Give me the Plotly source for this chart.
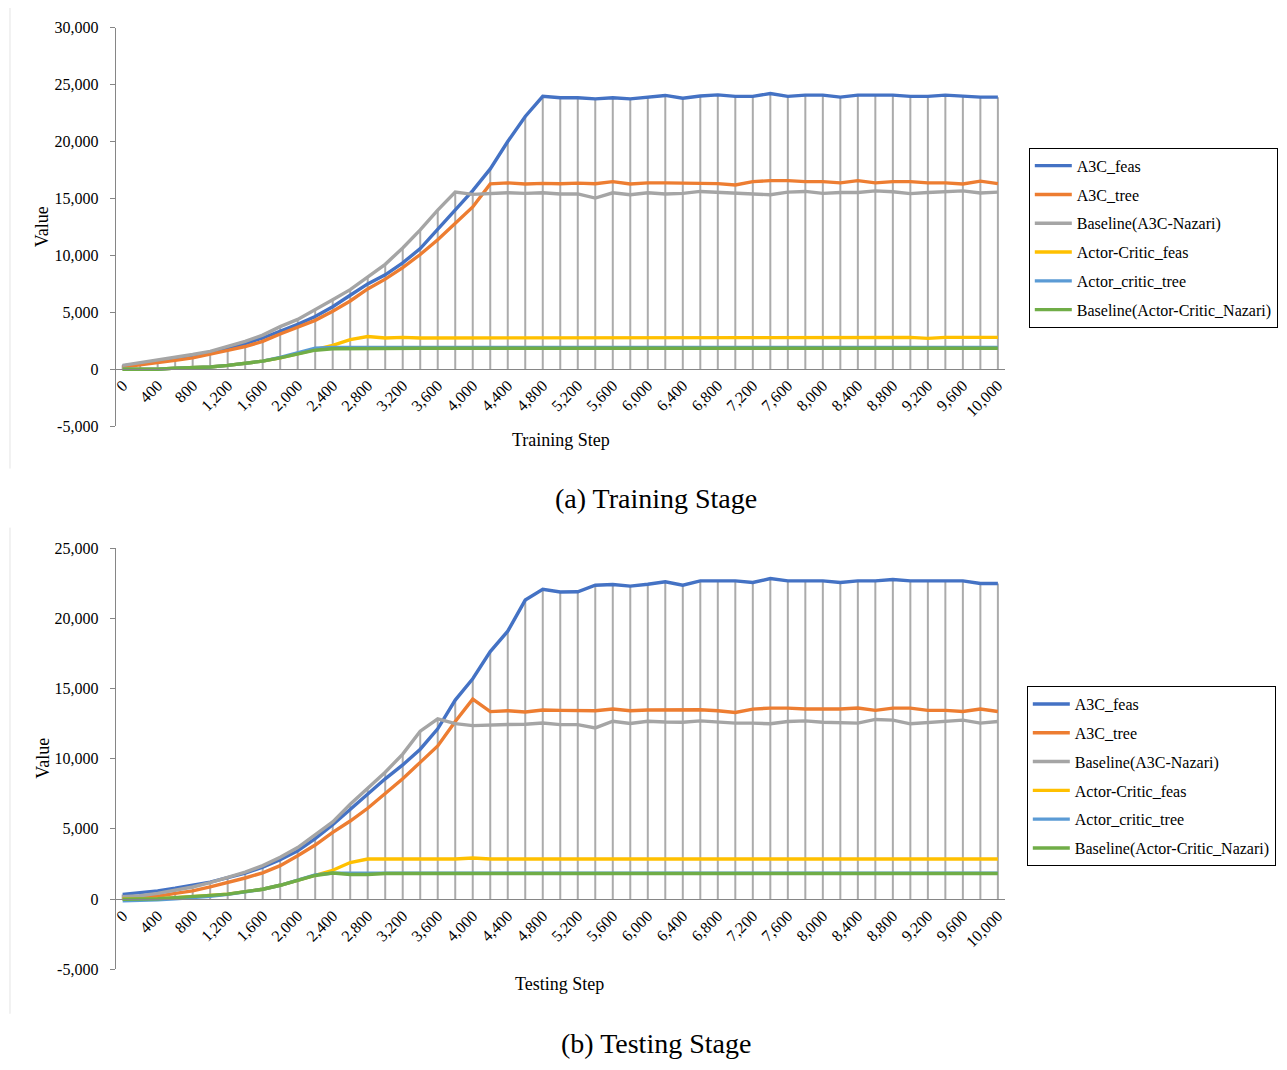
import plotly.graph_objects as go

# ---- data -------------------------------------------------------------
steps = list(range(0, 10001, 200))
tick_steps = list(range(0, 10001, 400))
y_ticks_train = [-5000, 0, 5000, 10000, 15000, 20000, 25000, 30000]
y_ticks_test = [-5000, 0, 5000, 10000, 15000, 20000, 25000]
series_names = ["A3C_feas", "A3C_tree", "Baseline(A3C-Nazari)",
                "Actor-Critic_feas", "Actor_critic_tree", "Baseline(Actor-Critic_Nazari)"]

train_a3c_feas = [300, 480, 700, 920, 1150, 1450, 1850, 2250, 2750, 3350, 3950,
                  4640, 5500, 6500, 7500, 8300, 9350, 10600, 12300, 14100, 15700,
                  17600, 20000, 22200, 23970, 23850, 23850, 23750, 23850, 23750, 23900,
                  24050, 23800, 24000, 24100, 23970, 23970, 24220, 23970, 24080, 24080,
                  23900, 24080, 24080, 24080, 23970, 23970, 24080, 23970, 23900, 23900]
train_a3c_tree = [200, 370, 580, 780, 1000, 1300, 1670, 2000, 2450, 3100, 3700,
                  4300, 5100, 6000, 7060, 7920, 8930, 10080, 11380, 12830, 14260,
                  16280, 16370, 16270, 16330, 16300, 16350, 16300, 16480, 16280, 16370,
                  16370, 16370, 16370, 16310, 16190, 16480, 16570, 16570, 16480, 16480,
                  16370, 16570, 16370, 16480, 16480, 16370, 16370, 16280, 16520, 16310]
train_baseline_a3c = [350, 580, 800, 1040, 1300, 1580, 2000, 2450, 3000, 3750, 4380,
                      5200, 6100, 7000, 8130, 9220, 10660, 12250, 13980, 15560, 15360,
                      15450, 15500, 15450, 15500, 15400, 15400, 15040, 15500, 15330, 15500,
                      15400, 15450, 15620, 15560, 15480, 15430, 15330, 15560, 15620, 15450,
                      15530, 15530, 15670, 15590, 15430, 15530, 15620, 15670, 15480, 15560]
train_ac_feas = [0, -20, 0, 100, 150, 200, 350, 520, 720, 1000, 1380,
                 1750, 2100, 2600, 2880, 2750, 2800, 2750, 2750, 2750, 2800,
                 2800, 2800, 2800, 2800, 2800, 2800, 2800, 2800, 2800, 2800,
                 2800, 2800, 2800, 2800, 2800, 2800, 2800, 2800, 2800, 2800,
                 2800, 2800, 2800, 2800, 2800, 2720, 2800, 2800, 2800, 2800]
train_ac_tree = [0, -20, 0, 100, 150, 200, 350, 520, 720, 1050, 1450,
                 1850, 1920, 1930, 1920, 1920, 1920, 1920, 1920, 1920, 1920,
                 1920, 1920, 1920, 1920, 1920, 1920, 1920, 1920, 1920, 1920,
                 1920, 1920, 1920, 1920, 1920, 1920, 1920, 1920, 1920, 1920,
                 1920, 1920, 1920, 1920, 1920, 1920, 1920, 1920, 1920, 1920]
train_baseline_ac = [0, -20, 0, 100, 150, 200, 350, 520, 720, 1000, 1350,
                     1680, 1800, 1820, 1850, 1850, 1850, 1850, 1850, 1830, 1820,
                     1850, 1850, 1850, 1850, 1850, 1850, 1850, 1850, 1850, 1850,
                     1850, 1850, 1850, 1850, 1850, 1850, 1850, 1850, 1850, 1850,
                     1820, 1820, 1850, 1850, 1810, 1850, 1850, 1850, 1850, 1850]

test_a3c_feas = [330, 440, 580, 770, 980, 1210, 1520, 1850, 2270, 2800, 3430,
                 4300, 5300, 6400, 7520, 8570, 9560, 10680, 12130, 14180, 15700,
                 17640, 19090, 21310, 22080, 21880, 21900, 22370, 22420, 22300, 22440,
                 22610, 22370, 22680, 22680, 22680, 22560, 22840, 22680, 22680, 22680,
                 22560, 22680, 22680, 22770, 22680, 22680, 22680, 22680, 22490, 22490]
test_a3c_tree = [50, 100, 200, 400, 580, 860, 1170, 1500, 1870, 2380, 3080,
                 3850, 4750, 5560, 6470, 7520, 8570, 9740, 10910, 12660, 14250,
                 13360, 13420, 13330, 13470, 13450, 13450, 13420, 13540, 13420, 13470,
                 13470, 13490, 13490, 13420, 13300, 13540, 13610, 13610, 13540, 13540,
                 13540, 13610, 13450, 13610, 13610, 13450, 13450, 13370, 13540, 13370]
test_baseline_a3c = [160, 230, 400, 630, 860, 1170, 1520, 1920, 2380, 2970, 3670,
                     4600, 5500, 6750, 7920, 9040, 10330, 11960, 12850, 12500, 12360,
                     12420, 12440, 12460, 12550, 12430, 12430, 12200, 12670, 12510, 12670,
                     12620, 12600, 12700, 12610, 12540, 12540, 12490, 12650, 12700, 12600,
                     12580, 12540, 12800, 12750, 12490, 12580, 12700, 12750, 12540, 12650]
test_ac_feas = [0, 0, 20, 100, 160, 260, 350, 510, 700, 980, 1330,
                1700, 2050, 2600, 2850, 2850, 2850, 2850, 2850, 2850, 2920,
                2850, 2850, 2850, 2850, 2850, 2850, 2900, 2850, 2850, 2850,
                2850, 2850, 2850, 2850, 2900, 2850, 2900, 2850, 2850, 2900,
                2850, 2850, 2900, 2850, 2850, 2850, 2850, 2900, 2850, 2850]
test_ac_tree = [-120, -100, -50, 20, 100, 200, 330, 500, 700, 980, 1350,
                1720, 1850, 1820, 1850, 1850, 1850, 1850, 1850, 1850, 1850,
                1850, 1850, 1850, 1850, 1850, 1850, 1850, 1850, 1850, 1850,
                1850, 1850, 1850, 1850, 1850, 1850, 1850, 1850, 1850, 1850,
                1850, 1850, 1850, 1850, 1850, 1850, 1850, 1850, 1850, 1850]
test_baseline_ac = [-20, -20, 20, 100, 160, 260, 350, 510, 700, 980, 1330,
                    1680, 1850, 1750, 1750, 1820, 1820, 1820, 1820, 1820, 1820,
                    1820, 1820, 1820, 1820, 1820, 1820, 1820, 1820, 1820, 1820,
                    1820, 1820, 1820, 1820, 1820, 1820, 1820, 1820, 1820, 1820,
                    1820, 1820, 1820, 1820, 1820, 1820, 1820, 1820, 1820, 1820]

# ---- styling -----------------------------------------------------------
colors = ["#4472C4", "#ED7D31", "#A5A5A5", "#FFC000", "#5B9BD5", "#70AD47"]
FONT = "Liberation Serif, Times New Roman, serif"
AXIS_GREY = "#868686"
DROP_GREY = "#ABABAB"
W, H = 1287, 1070


def px_x(v):
    return v / W


def px_y(v):
    return (H - v) / H


def fmt(v):
    return f"{v:,}"


fig = go.Figure()


def add_panel(series, xa, ya, legend_id, tag):
    # drop lines: from the highest series value at each step down to the axis
    dx, dy = [], []
    for i, s in enumerate(steps):
        top = max(col[i] for col in series)
        dx += [s, s, None]
        dy += [0, top, None]
    fig.add_trace(go.Scatter(x=dx, y=dy, mode="lines", xaxis=xa, yaxis=ya,
                             line=dict(color=DROP_GREY, width=2),
                             showlegend=False, hoverinfo="skip"))
    for k, (name, vals) in enumerate(zip(series_names, series)):
        fig.add_trace(go.Scatter(x=steps, y=vals, mode="lines", name=name,
                                 xaxis=xa, yaxis=ya, legend=legend_id,
                                 legendgroup=f"{tag}{k}",
                                 line=dict(color=colors[k], width=3.4)))


add_panel([train_a3c_feas, train_a3c_tree, train_baseline_a3c,
           train_ac_feas, train_ac_tree, train_baseline_ac], "x", "y", "legend", "tr")
add_panel([test_a3c_feas, test_a3c_tree, test_baseline_a3c,
           test_ac_feas, test_ac_tree, test_baseline_ac], "x2", "y2", "legend2", "te")

x_domain = [px_x(113), px_x(1005)]
xaxis_common = dict(domain=x_domain, range=[-80, 10080], anchor="free",
                    showline=True, linecolor=AXIS_GREY, linewidth=1,
                    tickmode="array", tickvals=tick_steps,
                    ticktext=[fmt(v) for v in tick_steps], tickangle=-45,
                    ticks="", showgrid=False, zeroline=False,
                    tickfont=dict(family=FONT, size=16, color="black"))
yaxis_common = dict(showline=True, linecolor=AXIS_GREY, linewidth=1,
                    ticks="outside", ticklen=5, tickcolor=AXIS_GREY,
                    ticklabelstandoff=8,
                    showgrid=False, zeroline=False, tickmode="array",
                    tickfont=dict(family=FONT, size=16, color="black"))

legend_common = dict(xanchor="left", yanchor="top", bgcolor="white",
                     bordercolor="black", borderwidth=1,
                     font=dict(family=FONT, size=16, color="black"),
                     traceorder="grouped", tracegroupgap=5, itemwidth=37)

fig.update_layout(
    width=W, height=H, margin=dict(l=0, r=0, t=0, b=0),
    paper_bgcolor="white", plot_bgcolor="rgba(0,0,0,0)",
    xaxis=dict(**xaxis_common, position=px_y(366.7)),
    yaxis=dict(**yaxis_common, domain=[px_y(425), px_y(20)], range=[-5000, 30000],
               anchor="x", tickvals=y_ticks_train,
               ticktext=[fmt(v) for v in y_ticks_train]),
    xaxis2=dict(**xaxis_common, position=px_y(905.7)),
    yaxis2=dict(**yaxis_common, domain=[px_y(976.7), px_y(549)], range=[-5000, 25000],
                anchor="x2", tickvals=y_ticks_test,
                ticktext=[fmt(v) for v in y_ticks_test]),
    legend=dict(**legend_common, x=px_x(1029), y=px_y(142)),
    legend2=dict(**legend_common, x=px_x(1027), y=px_y(689)),
    showlegend=True,
)

texts = [
    ("Value", 40, 222, 18, -90),
    ("Training Step", 560, 439, 18, 0),
    ("Value", 40, 762, 18, -90),
    ("Testing Step", 558, 992, 18, 0),
    ("(a) Training Stage", 655, 498, 28, 0),
    ("(b) Testing Stage", 655, 1052, 28, 0),
]
for t, x, y, size, ang in texts:
    fig.add_annotation(text=t, x=px_x(x), y=px_y(y), xref="paper", yref="paper",
                       showarrow=False, textangle=ang, xanchor="center", yanchor="middle",
                       font=dict(family=FONT, size=size, color="black"))

# faint frame edges of the two chart panels
for y0, y1 in [(0, 468), (528, 1022)]:
    fig.add_shape(type="line", xref="paper", yref="paper",
                  x0=px_x(7), x1=px_x(7), y0=px_y(y0), y1=px_y(y1),
                  line=dict(color="#e4e4e4", width=1))

fig.write_html("out.html")
